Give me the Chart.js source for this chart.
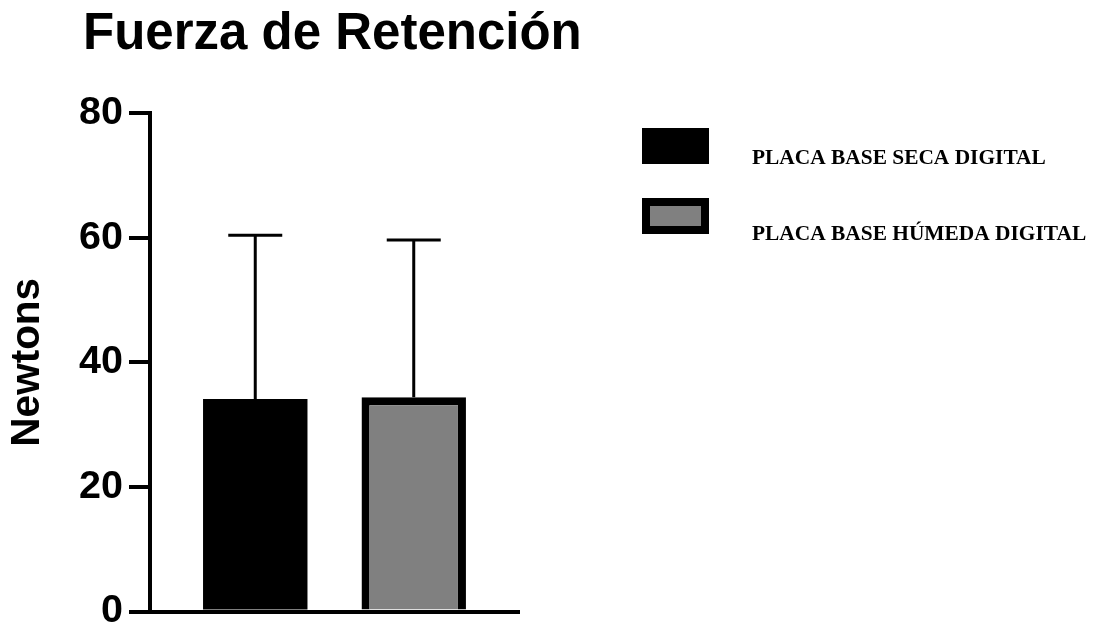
<!DOCTYPE html>
<html>
<head>
<meta charset="utf-8">
<title>Fuerza de Retención</title>
<script src="https://cdn.jsdelivr.net/npm/chart.js@4"></script>
<style>
  html, body { margin: 0; padding: 0; background: #fff; }
  canvas { display: block; }
</style>
</head>
<body>
<canvas id="myChart" width="1097" height="628"></canvas>
<script>
// Retention force per base plate (mean + SD)
var groups = ['PLACA BASE SECA DIGITAL', 'PLACA BASE HÚMEDA DIGITAL'];
var means = [34.1, 34.4];
var errors = [26.3, 25.2];
var fills = ['#000000', '#808080'];
var outlines = [0, 8];
var yTicks = [0, 20, 40, 60, 80];

// error bars (upper only) on top of each bar
var errorBars = {
    id: 'errorBars',
    afterDatasetsDraw: function(chart) {
        var ctx = chart.ctx;
        var y = chart.scales.y;
        ctx.save();
        ctx.strokeStyle = '#000';
        ctx.lineWidth = 3;
        chart.data.datasets.forEach(function(ds, i) {
            var bar = chart.getDatasetMeta(i).data[0];
            var base = y.getPixelForValue(means[i]);
            var top = y.getPixelForValue(means[i] + errors[i]);
            ctx.beginPath();
            ctx.moveTo(bar.x, base);
            ctx.lineTo(bar.x, top);
            ctx.moveTo(bar.x - 27, top);
            ctx.lineTo(bar.x + 27, top);
            ctx.stroke();
        });
        ctx.restore();
    }
};

// chart heading and the legend on the right
var sideText = {
    id: 'sideText',
    afterDraw: function(chart) {
        var ctx = chart.ctx;
        ctx.save();
        ctx.fillStyle = '#000';
        ctx.textAlign = 'left';
        ctx.textBaseline = 'alphabetic';
        ctx.font = 'bold 51px "Liberation Sans", Arial, sans-serif';
        ctx.fillText('Fuerza de Retención', 83, 49);

        ctx.font = 'bold 21.4px "Liberation Serif", "Times New Roman", serif';
        chart.data.datasets.forEach(function(ds, i) {
            var top = 128 + i * 70;
            ctx.fillStyle = '#000';
            ctx.fillRect(642, top, 67, 36);
            ctx.fillStyle = ds.backgroundColor;
            ctx.fillRect(650, top + 8, 51, 20);
            ctx.fillStyle = '#000';
            ctx.fillText(ds.label, 752, 164 + i * 76);
        });
        ctx.restore();
    }
};

function createChart() {
    var ctx = document.getElementById('myChart').getContext('2d');
    Chart.defaults.font.family = '"Liberation Sans", Arial, sans-serif';
    Chart.defaults.color = '#000';

    var chart = new Chart(ctx, {
        type: 'bar',
        data: {
            labels: [''],
            datasets: groups.map(function(name, i) {
                return {
                    label: name,
                    data: [means[i]],
                    backgroundColor: fills[i],
                    borderColor: '#000000',
                    borderWidth: outlines[i],
                    categoryPercentage: 0.859,
                    barPercentage: 0.659
                };
            })
        },
        options: {
            responsive: false,
            animation: false,
            layout: {
                padding: { top: 113, right: 578, bottom: 0, left: 0 }
            },
            plugins: {
                legend: { display: false },
                tooltip: { enabled: false },
                title: { display: false }
            },
            scales: {
                x: {
                    ticks: { display: false },
                    grid: { display: false },
                    border: { display: true, color: '#000', width: 4 },
                    afterFit: function(scale) { scale.height = 16.5; }
                },
                y: {
                    min: yTicks[0],
                    max: yTicks[yTicks.length - 1],
                    afterBuildTicks: function(scale) {
                        scale.ticks = yTicks.map(function(v) { return { value: v }; });
                    },
                    ticks: {
                        padding: 6,
                        color: '#000',
                        font: { size: 39.5, weight: 'bold', lineHeight: 0.4 }
                    },
                    grid: {
                        drawOnChartArea: false,
                        drawTicks: true,
                        tickLength: 21,
                        lineWidth: 4,
                        color: '#000'
                    },
                    border: { display: true, color: '#000', width: 4 },
                    title: {
                        display: true,
                        text: 'Newtons',
                        color: '#000',
                        padding: { top: 4, bottom: 0 },
                        font: { size: 40.5, weight: 'bold', lineHeight: 1.2 }
                    },
                    afterFit: function(scale) { scale.width = 150; }
                }
            }
        },
        plugins: [errorBars, sideText]
    });
}

createChart();
</script>
</body>
</html>
